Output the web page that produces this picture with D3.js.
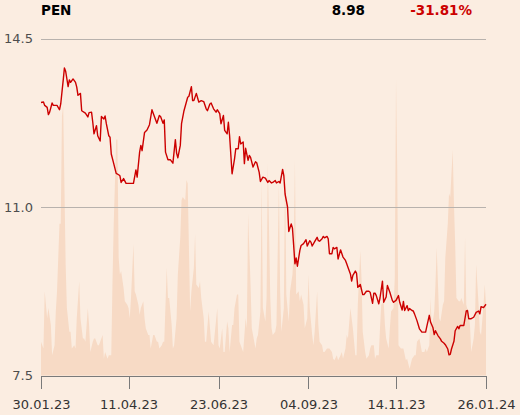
<!DOCTYPE html>
<html lang = "en">
   <head>
      <meta charset = "UTF-8">
      <script type = "text/javascript" src = "https://d3js.org/d3.v7.min.js"></script>
      <style>
         html, body {
            margin: 0;
            padding: 0;
            background: #fbede1;
         }
         body {
            font-family: "DejaVu Sans", sans-serif;
         }
         .grid line {
            stroke: #b8b2ad;
            stroke-width: 1px;
            shape-rendering: crispEdges;
         }
         .grid path {
            stroke-width: 0;
         }
         .ylabel {
            font-size: 13px;
            fill: #4d4d4d;
         }
         .x-axis path, .x-axis line {
            stroke: #7a7a7a;
            shape-rendering: crispEdges;
         }
         .x-axis text {
            font-size: 13px;
            fill: #333;
         }
         .volume {
            fill: #f7dac5;
         }
         .price {
            fill: none;
            stroke: #cc0000;
            stroke-width: 1.4px;
            stroke-linejoin: round;
         }
         .head {
            font-size: 13.5px;
            font-weight: bold;
         }
      </style>
   </head>
   <body>
      <script>
      // header texts
      var symbol = "PEN",
         lastPrice = "8.98",
         change = "-31.81%";

      // first date of the series, days are counted from here
      var startDate = "2023-01-30",
         endDate = "2024-01-26";

      // price series: day offset and close
      var priceDays = [
         0, 2, 3, 5, 6, 7, 9, 10, 13, 15,
         16, 18, 19, 20, 22, 23, 24, 26, 28, 29,
         30, 32, 33, 36, 38, 39, 41, 42, 43, 45,
         46, 48, 49, 51, 52, 53, 55, 56, 57, 59,
         61, 63, 64, 65, 67, 69, 72, 75, 77, 78,
         80, 81, 82, 84, 86, 88, 90, 92, 94, 96,
         97, 99, 100, 101, 103, 105, 107, 109, 110, 111,
         113, 114, 116, 119, 120, 122, 123, 124, 126, 128,
         130, 132, 134, 135, 137, 138, 140, 142, 143, 145,
         146, 148, 149, 151, 152, 153, 155, 157, 158, 160,
         161, 162, 164, 165, 166, 168, 169, 170, 172, 174,
         175, 177, 178, 180, 182, 184, 185, 187, 188, 190,
         191, 193, 194, 196, 197, 198, 200, 201, 203, 204,
         206, 207, 208, 210, 211, 213, 215, 216, 218, 219,
         220, 222, 224, 225, 226, 228, 229, 230, 232, 233,
         234, 236, 237, 238, 240, 241, 243, 245, 247, 248,
         249, 251, 252, 253, 255, 256, 257, 259, 261, 262,
         264, 266, 267, 269, 270, 271, 272, 274, 275, 277,
         278, 280, 281, 283, 285, 286, 288, 290, 291, 293,
         294, 295, 297, 298, 299, 301, 302, 303, 305, 307,
         309, 312, 313, 315, 316, 318, 319, 320, 322, 324,
         325, 327, 328, 330, 331, 332, 333, 335, 336, 338,
         339, 340, 342, 343, 345, 346, 347, 349, 351, 353,
         355, 356, 357, 359, 361];

      var priceValues = [
         13.17, 13.18, 13.11, 13.07, 12.92, 12.97, 13.16, 13.11, 13.11, 13.02,
         13.14, 13.63, 13.89, 13.82, 13.50, 13.64, 13.59, 13.66, 13.59, 13.49,
         13.32, 13.36, 13.00, 12.95, 12.87, 12.96, 12.97, 12.76, 12.52, 12.69,
         12.48, 12.37, 12.88, 12.83, 12.89, 12.73, 12.48, 12.45, 12.10, 11.90,
         11.70, 11.67, 11.65, 11.51, 11.59, 11.49, 11.49, 11.49, 11.77, 11.62,
         12.14, 12.28, 12.17, 12.55, 12.60, 12.71, 13.02, 12.88, 12.74, 12.90,
         12.88, 12.74, 12.81, 12.14, 11.98, 11.98, 11.91, 12.40, 12.12, 12.02,
         12.28, 12.73, 13.00, 13.28, 13.30, 13.50, 13.21, 13.21, 13.36, 13.18,
         13.21, 13.19, 13.04, 13.00, 13.14, 13.16, 13.04, 12.97, 13.02, 12.94,
         12.73, 12.90, 12.59, 12.52, 12.76, 12.48, 11.69, 12.00, 12.21, 12.21,
         12.46, 12.31, 12.35, 11.90, 12.22, 11.97, 12.07, 12.03, 11.83, 11.94,
         11.92, 11.72, 11.53, 11.62, 11.60, 11.51, 11.55, 11.50, 11.51, 11.55,
         11.50, 11.53, 11.50, 11.78, 11.65, 11.27, 11.00, 10.49, 10.65, 10.56,
         9.82, 9.94, 9.77, 10.10, 10.20, 10.24, 10.32, 10.19, 10.30, 10.27,
         10.19, 10.28, 10.37, 10.30, 10.29, 10.34, 10.39, 10.36, 10.39, 10.34,
         10.03, 10.03, 10.16, 10.13, 10.16, 9.92, 10.11, 9.96, 9.89, 9.82,
         9.75, 9.61, 9.46, 9.58, 9.67, 9.62, 9.33, 9.39, 9.18, 9.18,
         9.25, 9.25, 9.23, 9.00, 9.21, 9.21, 9.16, 8.99, 9.11, 9.46,
         9.02, 9.13, 9.37, 9.23, 9.06, 9.02, 9.06, 9.16, 9.02, 8.86,
         9.04, 8.85, 8.95, 8.85, 8.89, 8.85, 8.84, 8.78, 8.64, 8.47,
         8.40, 8.40, 8.52, 8.75, 8.61, 8.49, 8.35, 8.43, 8.33, 8.26,
         8.21, 8.17, 8.14, 8.05, 7.93, 7.94, 8.05, 8.21, 8.43, 8.52,
         8.47, 8.54, 8.54, 8.54, 8.84, 8.85, 8.68, 8.68, 8.71, 8.81,
         8.84, 8.78, 8.93, 8.91, 8.98];

      // traded volume: day offset and amount (arbitrary units)
      var volumeDays = [
         0, 2, 3, 5, 6, 8, 9, 11, 12, 13,
         15, 16, 17, 18, 20, 21, 23, 24, 25, 27,
         28, 29, 31, 32, 34, 35, 36, 38, 39, 40,
         42, 43, 44, 46, 47, 48, 50, 51, 52, 54,
         55, 57, 58, 59, 61, 62, 63, 64, 65, 67,
         68, 70, 71, 72, 73, 75, 76, 77, 79, 80,
         81, 83, 84, 85, 87, 88, 89, 91, 92, 94,
         95, 96, 98, 99, 100, 102, 103, 104, 106, 107,
         108, 110, 111, 113, 114, 115, 117, 118, 119, 121,
         122, 124, 125, 126, 128, 129, 130, 132, 133, 134,
         136, 138, 140, 143, 144, 145, 147, 148, 149, 151,
         152, 153, 155, 156, 157, 159, 160, 161, 163, 164,
         166, 167, 168, 170, 171, 172, 174, 175, 176, 178,
         179, 180, 182, 183, 184, 186, 187, 188, 190, 191,
         193, 194, 195, 197, 198, 199, 201, 202, 204, 205,
         206, 207, 209, 210, 211, 213, 214, 216, 217, 218,
         220, 221, 222, 224, 225, 226, 228, 229, 230, 232,
         233, 234, 236, 237, 238, 240, 241, 243, 244, 245,
         247, 248, 249, 251, 252, 253, 255, 256, 257, 259,
         260, 261, 263, 264, 266, 267, 268, 270, 271, 272,
         274, 275, 276, 278, 279, 280, 282, 283, 284, 286,
         287, 288, 289, 290, 292, 293, 294, 296, 297, 299,
         300, 301, 303, 304, 305, 307, 308, 309, 311, 312,
         313, 315, 316, 317, 319, 320, 321, 323, 324, 326,
         327, 328, 330, 331, 332, 334, 335, 336, 337, 339,
         340, 341, 343, 344, 345, 347, 348, 349, 351, 352,
         353, 355, 356, 357, 359, 360, 361];

      var volumeValues = [
         10, 8, 25, 17, 20, 15, 6, 9, 19, 25,
         45, 45, 77, 80, 33, 20, 13, 13, 8, 9,
         8, 17, 28, 17, 11, 11, 10, 20, 15, 7,
         10, 11, 11, 9, 9, 10, 12, 5, 7, 5,
         6, 6, 28, 45, 70, 70, 35, 30, 31, 26,
         22, 21, 20, 17, 23, 39, 25, 24, 21, 18,
         20, 22, 17, 14, 12, 12, 8, 12, 12, 10,
         10, 8, 9, 10, 10, 32, 23, 23, 15, 8,
         9, 17, 30, 41, 52, 53, 52, 58, 57, 19,
         25, 32, 42, 27, 26, 28, 23, 17, 10, 10,
         19, 10, 9, 20, 9, 8, 14, 7, 7, 16,
         14, 7, 15, 15, 20, 24, 24, 10, 8, 7,
         17, 14, 48, 27, 14, 12, 8, 11, 12, 19,
         58, 20, 16, 23, 63, 23, 14, 12, 13, 15,
         57, 25, 13, 20, 63, 24, 16, 25, 30, 37,
         64, 24, 25, 22, 24, 21, 14, 17, 30, 20,
         12, 9, 13, 25, 15, 10, 9, 7, 7, 8,
         8, 8, 7, 5, 4.5, 6, 4.5, 6, 7, 5,
         8, 12, 11, 20, 17, 14, 6, 6, 21, 37,
         29, 13, 7, 5, 6, 8, 9, 9, 5, 6,
         6, 14, 21, 22, 15, 11, 8, 14, 19, 20,
         29, 88, 61, 9, 8, 8, 8, 4.5, 5, 2,
         3.5, 5, 6, 6, 10, 11, 9, 7, 7, 8,
         7, 9, 23, 14, 19, 27, 38, 17, 16, 21,
         22, 35, 45, 54, 53, 67, 51, 39, 23, 22,
         22, 23, 21, 41, 21, 18, 15, 7, 11, 15,
         33, 21, 13, 12, 21, 27, 21];

      // axis ticks
      var yTicks = [7.5, 11.0, 14.5],
         yLabels = ["7.5", "11.0", "14.5"],
         xTicks = ["2023-01-30", "2023-04-11", "2023-06-23", "2023-09-04", "2023-11-14", "2024-01-26"];

      var parseDate = d3.utcParse("%Y-%m-%d"),
         start = parseDate(startDate);

      var priceData = priceDays.map(function(d, i) {
         return {date: d3.utcDay.offset(start, d), value: priceValues[i]};
      });
      var volumeData = volumeDays.map(function(d, i) {
         return {date: d3.utcDay.offset(start, d), value: volumeValues[i]};
      });

      // plot box inside the 520x415 page
      var plotLeft = 41, plotRight = 486, plotTop = 38.5, plotBottom = 375.5;

      var xscale = d3.scaleUtc()
         .domain([start, parseDate(endDate)])
         .range([plotLeft, plotRight]);

      var yscale = d3.scaleLinear()
         .domain([7.5, 14.5])
         .range([plotBottom, plotTop]);

      var vscale = d3.scaleLinear()
         .domain([0, 100])
         .range([plotBottom, plotTop]);

      var svg = d3.select("body").append("svg")
         .attr("width", 520)
         .attr("height", 415)
         .style("display", "block");

      // volume area in the background
      var area = d3.area()
         .x(function(d) { return xscale(d.date); })
         .y0(plotBottom)
         .y1(function(d) { return vscale(d.value); });

      svg.append("path")
         .datum(volumeData)
         .attr("class", "volume")
         .attr("d", area);

      // horizontal gridlines
      svg.append("g")
         .attr("class", "grid")
         .attr("transform", "translate(" + plotLeft + ",0)")
         .call(d3.axisLeft(yscale)
            .tickValues(yTicks.slice(1))
            .tickSize(-(plotRight - plotLeft))
            .tickFormat("")
         );

      // y labels
      svg.selectAll(".ylabel")
         .data(yTicks)
         .enter().append("text")
         .attr("class", "ylabel")
         .attr("x", 33)
         .attr("y", function(d) { return yscale(d); })
         .attr("dy", "0.35em")
         .attr("text-anchor", "end")
         .text(function(d, i) { return yLabels[i]; });

      // x axis
      svg.append("g")
         .attr("class", "x-axis")
         .attr("transform", "translate(0," + plotBottom + ")")
         .call(d3.axisBottom(xscale)
            .tickValues(xTicks.map(parseDate))
            .tickSize(13)
            .tickSizeOuter(0)
            .tickPadding(11)
            .tickFormat(d3.utcFormat("%d.%m.%y"))
         )
         .attr("font-family", null)
         .attr("font-size", null);

      // price line
      var line = d3.line()
         .x(function(d) { return xscale(d.date); })
         .y(function(d) { return yscale(d.value); });

      svg.append("path")
         .datum(priceData)
         .attr("class", "price")
         .attr("d", line);

      // header
      svg.append("text")
         .attr("class", "head")
         .attr("x", 41)
         .attr("y", 15)
         .text(symbol);

      svg.append("text")
         .attr("class", "head")
         .attr("x", 365)
         .attr("y", 15)
         .attr("text-anchor", "end")
         .text(lastPrice);

      svg.append("text")
         .attr("class", "head")
         .attr("x", 472)
         .attr("y", 15)
         .attr("text-anchor", "end")
         .style("fill", "#cc0000")
         .text(change);
      </script>
</body>
</html>
